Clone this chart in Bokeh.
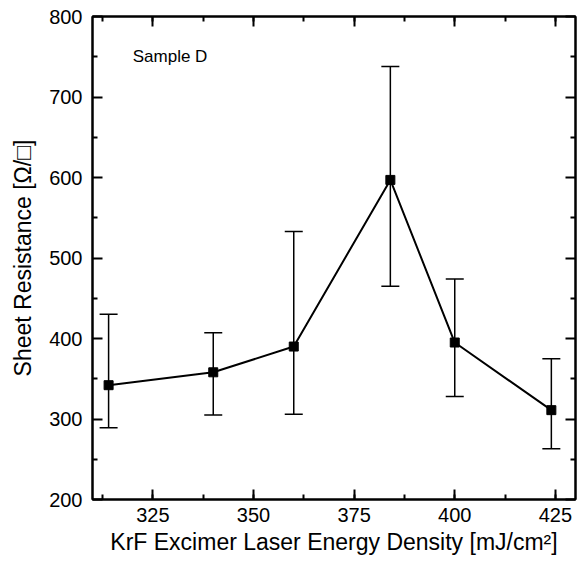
from bokeh.plotting import figure
from bokeh.models import ColumnDataSource, Whisker, TeeHead, LinearAxis, Label, FixedTicker, CustomJSTickFormatter, Range1d
from bokeh.embed import file_html
from bokeh.resources import INLINE

# Data
energy = [314, 340, 360, 384, 400, 424]
resistance = [342, 358, 390, 597, 395, 311]
err_upper = [430, 407, 533, 738, 474, 375]
err_lower = [289, 305, 306, 465, 328, 263]

x_ticks = [325, 350, 375, 400, 425]
y_ticks = [200, 300, 400, 500, 600, 700, 800]

FONT = "Liberation Sans"

src = ColumnDataSource(data=dict(x=energy, y=resistance, upper=err_upper, lower=err_lower))

p = figure(width=578, height=557, output_backend="svg", toolbar_location=None,
           x_range=Range1d(310, 430), y_range=Range1d(200, 800),
           min_border_left=92, min_border_right=3, min_border_top=16, min_border_bottom=57)
p.background_fill_color = "white"
p.border_fill_color = "white"
p.xgrid.visible = False
p.ygrid.visible = False
p.outline_line_color = "black"
p.outline_line_width = 2

bottom = p.below[0]
left = p.left[0]

# Top and right axes without labels
top = LinearAxis()
right = LinearAxis()
p.add_layout(top, "above")
p.add_layout(right, "right")

for ax in [bottom, top]:
    ax.ticker = FixedTicker(ticks=x_ticks, minor_ticks=[312.5 + 12.5 * i for i in range(10)])
for ax in [left, right]:
    ax.ticker = FixedTicker(ticks=y_ticks, minor_ticks=[250 + 100 * i for i in range(6)])

for ax in [bottom, left, top, right]:
    ax.major_tick_in = 10
    ax.major_tick_out = 0
    ax.minor_tick_in = 5
    ax.minor_tick_out = 0
    ax.major_tick_line_width = 2
    ax.minor_tick_line_width = 2
    ax.major_tick_line_color = "black"
    ax.minor_tick_line_color = "black"
    ax.axis_line_color = "black"
    ax.axis_line_width = 2
    ax.major_label_text_font = FONT
    ax.major_label_text_font_size = "20px"
    ax.major_label_text_color = "black"
    ax.axis_label_text_font = FONT
    ax.axis_label_text_font_size = "23px"
    ax.axis_label_text_font_style = "normal"
    ax.axis_label_text_color = "black"

for ax in [top, right]:
    ax.formatter = CustomJSTickFormatter(code="return '';")
    ax.major_label_standoff = 0
    ax.major_label_text_font_size = "0px"

bottom.major_label_standoff = 8
left.major_label_standoff = 10
bottom.axis_label = "KrF Excimer Laser Energy Density [mJ/cm²]"
left.axis_label = "Sheet Resistance [Ω/□]"
bottom.axis_label_standoff = 4
left.axis_label_standoff = 10

# Error bars
wh = Whisker(source=src, base="x", upper="upper", lower="lower", dimension="height",
             line_color="black", line_width=1.5,
             upper_head=TeeHead(size=18, line_color="black", line_width=1.5),
             lower_head=TeeHead(size=18, line_color="black", line_width=1.5))
p.add_layout(wh)

p.line("x", "y", source=src, line_color="black", line_width=2)
p.scatter("x", "y", source=src, marker="square", size=9, fill_color="black", line_color="black")

p.add_layout(Label(x=320, y=750, text="Sample D", text_font=FONT, text_font_size="17px",
                   text_color="black", text_baseline="middle", text_align="left"))

open("out.html", "w").write(file_html(p, INLINE))
